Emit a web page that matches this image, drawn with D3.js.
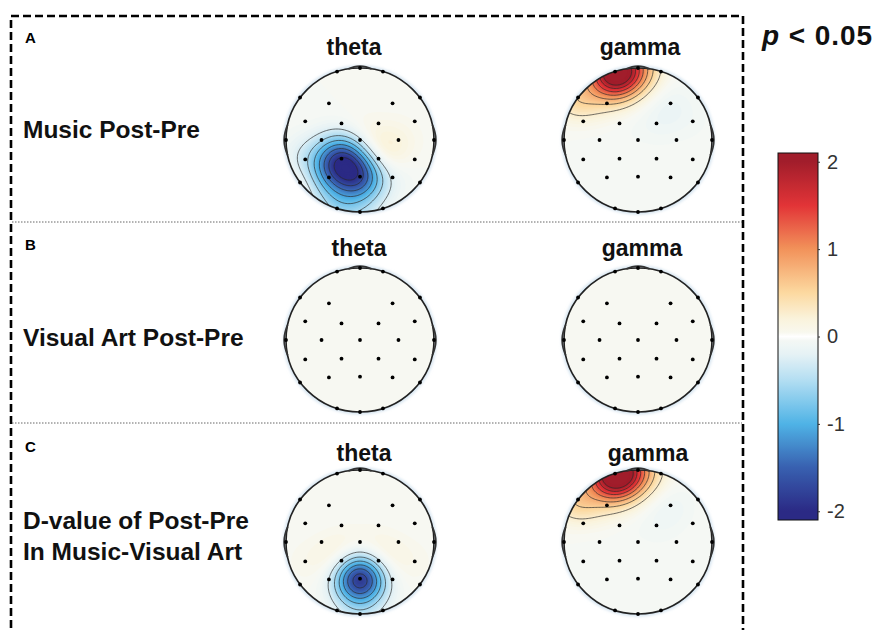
<!DOCTYPE html>
<html lang="en">
<head>
<meta charset="utf-8">
<script src="https://d3js.org/d3.v7.min.js"></script>
<style>
  body { margin: 0; background: #fff; }
  text { font-family: "Liberation Sans", Arial, sans-serif; }
</style>
</head>
<body>
<div id="chart"></div>
<script>
// electrode layout, normalised head coords (nose up, y grows to the back)
const chanNames = ["Fp1","Fpz","Fp2","AF3","AF4","F7","F5","F1","F2","F6","F8","T7","C3","Cz","C4","T8",
                   "CP5","CP1","CP2","CP6","P7","P3","Pz","P4","P8","O1","Oz","O2"];
const chanX = [-0.31,0,0.31,-0.42,0.44,-0.81,-0.74,-0.25,0.25,0.74,0.81,-1,-0.52,0,0.52,1,
               -0.74,-0.25,0.25,0.74,-0.81,-0.42,0,0.44,0.81,-0.31,0,0.31];
const chanY = [-0.95,-1,-0.95,-0.51,-0.51,-0.59,-0.26,-0.23,-0.23,-0.26,-0.59,0,0,0,0,0,
               0.27,0.26,0.26,0.27,0.59,0.52,0.51,0.52,0.59,0.95,1,0.95];

// masked (p < 0.05) values per electrode, same order as chanNames
const musicTheta  = [0,0,0,0,0,0,0,0,0,0,0,0,0,0.15,0.1,0,
                     -0.25,-1.4,0.3,0,0.15,-0.5,-1.3,-0.1,0,-0.35,-0.2,0];
const musicGamma  = [2.3,0.5,0,0.1,-0.1,0.5,-0.05,-0.04,-0.07,-0.04,0,0,0,0,0,0,
                     0,0,0,0,0,0,0,0,0,0,0,0];
const visualTheta = [0,0,0,0,0,0,0,0,0,0,0,0,0,0,0,0,0,0,0,0,0,0,0,0,0,0,0,0];
const visualGamma = [0,0,0,0,0,0,0,0,0,0,0,0,0,0,0,0,0,0,0,0,0,0,0,0,0,0,0,0];
const diffTheta   = [0,0,0,0,0,0,0,0,0,0,0,0,0,0.03,0,0,
                     0.05,0.3,0.3,0.05,0,0,-2.0,0,0,0,-0.2,0];
const diffGamma   = [2.4,0.55,0.03,0.1,-0.1,0.55,-0.05,-0.03,-0.05,0,0,0,0,0,0,0,
                     0,0,0,0,0,0,0,0,0,0,0,0];

const bands = ["theta", "gamma"];
const rowLetters = ["A", "B", "C"];
const rowLabels = [["Music Post-Pre"], ["Visual Art Post-Pre"], ["D-value of Post-Pre", "In Music-Visual Art"]];
const maps = [[musicTheta, musicGamma], [visualTheta, visualGamma], [diffTheta, diffGamma]];
const cbarTicks = [2, 1, 0, -1, -2];

// colormap
const cmapVals   = [-2, -1.5, -1, -0.5, -0.2, 0, 0.2, 0.5, 1, 1.5, 2];
const cmapColors = ["#2b2a85","#3860b0","#4fb3e6","#b3def2","#e6f2f5","#f7f9f4",
                    "#faf3dc","#fcd9a0","#f2925a","#e23437","#a11d2b"];
const color = d3.scaleLinear().domain(cmapVals).range(cmapColors).clamp(true);

const W = 875, H = 630;
const svg = d3.select("#chart").append("svg")
  .attr("width", W).attr("height", H);

const defs = svg.append("defs");
defs.append("filter").attr("id", "blur")
  .append("feGaussianBlur").attr("stdDeviation", 1.5);

// layout
const colX = [360, 638];
const rowY = [140, 340, 542];
const rx = 74, ry = 72;
const titleY = [55, 256, 461];
const titleX = [[354, 640], [359, 642], [364, 648]];

// interpolation grid
const n = 110, ext = 1.1, sigma = 0.24;
function field(vals) {
  const grid = new Float64Array(n * n);
  for (let j = 0; j < n; j++) {
    const y = -ext + j * (2 * ext / (n - 1));
    for (let i = 0; i < n; i++) {
      const x = -ext + i * (2 * ext / (n - 1));
      let s = 0;
      for (let k = 0; k < vals.length; k++) {
        if (!vals[k]) continue;
        const dx = x - chanX[k], dy = y - chanY[k];
        s += vals[k] * Math.exp(-(dx * dx + dy * dy) / (2 * sigma * sigma));
      }
      grid[j * n + i] = s;
    }
  }
  return grid;
}

const fillStep = 0.04;
// first level catches everything below the colour range
const fillLevels = [-100].concat(d3.range(-2.2, 2.25, fillStep));
const lineLevels = d3.range(1, 8).flatMap(k => [-0.28 * k, 0.28 * k]);

// dashed frame and separators
svg.append("path")
  .attr("d", `M11,${H + 10} V16 H743 V${H + 10}`)
  .attr("fill", "none").attr("stroke", "#000")
  .attr("stroke-width", 2.6).attr("stroke-dasharray", "8,4");

[222, 423].forEach(y => {
  svg.append("line")
    .attr("x1", 12).attr("x2", 742).attr("y1", y).attr("y2", y)
    .attr("stroke", "#666").attr("stroke-width", 1)
    .attr("stroke-dasharray", "1.5,1.5");
});

maps.forEach((row, r) => {
  const letterY = [43, 250, 452][r];
  svg.append("text").attr("x", 25).attr("y", letterY)
    .attr("font-size", 15).attr("font-weight", "bold").text(rowLetters[r]);

  const labY = [138, 346, 529][r];
  rowLabels[r].forEach((t, i) => {
    svg.append("text").attr("x", 23).attr("y", labY + i * 31)
      .attr("font-size", 24.5).attr("font-weight", "bold").attr("fill", "#111").text(t);
  });

  row.forEach((vals, c) => {
    const cx = colX[c], cy = rowY[r];
    const id = `clip${r}${c}`;
    defs.append("clipPath").attr("id", id)
      .append("ellipse").attr("cx", cx).attr("cy", cy).attr("rx", rx).attr("ry", ry);

    svg.append("text")
      .attr("x", titleX[r][c]).attr("y", titleY[r])
      .attr("text-anchor", "middle").attr("font-size", 23).attr("font-weight", "bold")
      .attr("fill", "#111").text(bands[c]);

    const g = svg.append("g");

    // soft halo around the head
    g.append("ellipse").attr("cx", cx).attr("cy", cy)
      .attr("rx", rx + 2.5).attr("ry", ry + 2.5)
      .attr("fill", "#d3e3ef").attr("filter", "url(#blur)");

    const xs = d3.scaleLinear().domain([0, n]).range([cx - rx * ext, cx + rx * ext]);
    const ys = d3.scaleLinear().domain([0, n]).range([cy - ry * ext, cy + ry * ext]);
    const path = d3.geoPath(d3.geoTransform({
      point(x, y) { this.stream.point(xs(x), ys(y)); }
    }));

    const grid = field(vals);
    const inner = g.append("g").attr("clip-path", `url(#${id})`);

    inner.selectAll("path.fill")
      .data(d3.contours().size([n, n]).thresholds(fillLevels)(grid))
      .join("path").attr("class", "fill")
      .attr("d", path)
      .attr("fill", d => color(d.value + fillStep / 2));

    inner.selectAll("path.line")
      .data(d3.contours().size([n, n]).thresholds(lineLevels)(grid))
      .join("path").attr("class", "line")
      .attr("d", path)
      .attr("fill", "none").attr("stroke", "#2a2a2a")
      .attr("stroke-opacity", 0.85).attr("stroke-width", 0.8);

    // head outline
    g.append("ellipse").attr("cx", cx).attr("cy", cy).attr("rx", rx).attr("ry", ry)
      .attr("fill", "none").attr("stroke", "#222").attr("stroke-width", 1.6);

    // ears and nose as small bumps on the rim
    const bump = (a0, a1) => {
      const pts = d3.range(a0, a1 + 0.01, (a1 - a0) / 8).map((a, i, arr) => {
        const t = i / (arr.length - 1);
        const k = 1 + 0.025 * Math.sin(Math.PI * t);
        const rad = a * Math.PI / 180;
        return [cx + rx * k * Math.sin(rad), cy - ry * k * Math.cos(rad)];
      });
      g.append("path").attr("d", d3.line()(pts))
        .attr("fill", "none").attr("stroke", "#333").attr("stroke-width", 1.8);
    };
    bump(78, 102);
    bump(-102, -78);
    bump(-9, 9);

    // electrodes
    g.selectAll("circle.el")
      .data(chanNames)
      .join("circle").attr("class", "el")
      .attr("cx", (d, i) => cx + rx * chanX[i])
      .attr("cy", (d, i) => cy + ry * chanY[i])
      .attr("r", 1.9).attr("fill", "#000");
  });
});

// colour bar
const cb = { x: 778, y: 153, w: 40, h: 367 };
const cbScale = d3.scaleLinear().domain([-2.1, 2.1]).range([cb.y + cb.h, cb.y]);
const grad = defs.append("linearGradient").attr("id", "cbar")
  .attr("x1", 0).attr("x2", 0).attr("y1", 1).attr("y2", 0);
d3.range(-2.1, 2.101, 0.05).forEach(v => {
  grad.append("stop").attr("offset", (v + 2.1) / 4.2)
    .attr("stop-color", Math.abs(v) < 0.03 ? "#ffffff" : color(v));
});
svg.append("rect").attr("x", cb.x).attr("y", cb.y).attr("width", cb.w).attr("height", cb.h)
  .attr("fill", "url(#cbar)").attr("stroke", "#111").attr("stroke-width", 1);

const cbAxis = svg.append("g").attr("transform", `translate(${cb.x + cb.w},0)`)
  .call(d3.axisRight(cbScale).tickValues(cbarTicks).tickSize(2).tickFormat(d3.format("d")));
cbAxis.select(".domain").remove();
cbAxis.selectAll("line").attr("stroke", "#333");
cbAxis.selectAll("text")
  .attr("x", 9).attr("font-size", 20).attr("fill", "#333")
  .style("font-family", "'Liberation Sans', Arial, sans-serif")
  .text(d => d < 0 ? "-" + Math.abs(d) : d);

// significance note
const note = svg.append("text").attr("x", 762).attr("y", 45)
  .attr("font-size", 28).attr("font-weight", "bold").attr("fill", "#111")
  .attr("textLength", 110).attr("lengthAdjust", "spacing");
note.append("tspan").attr("font-style", "italic").text("p");
note.append("tspan").text(" < 0.05");
</script>
</body>
</html>
